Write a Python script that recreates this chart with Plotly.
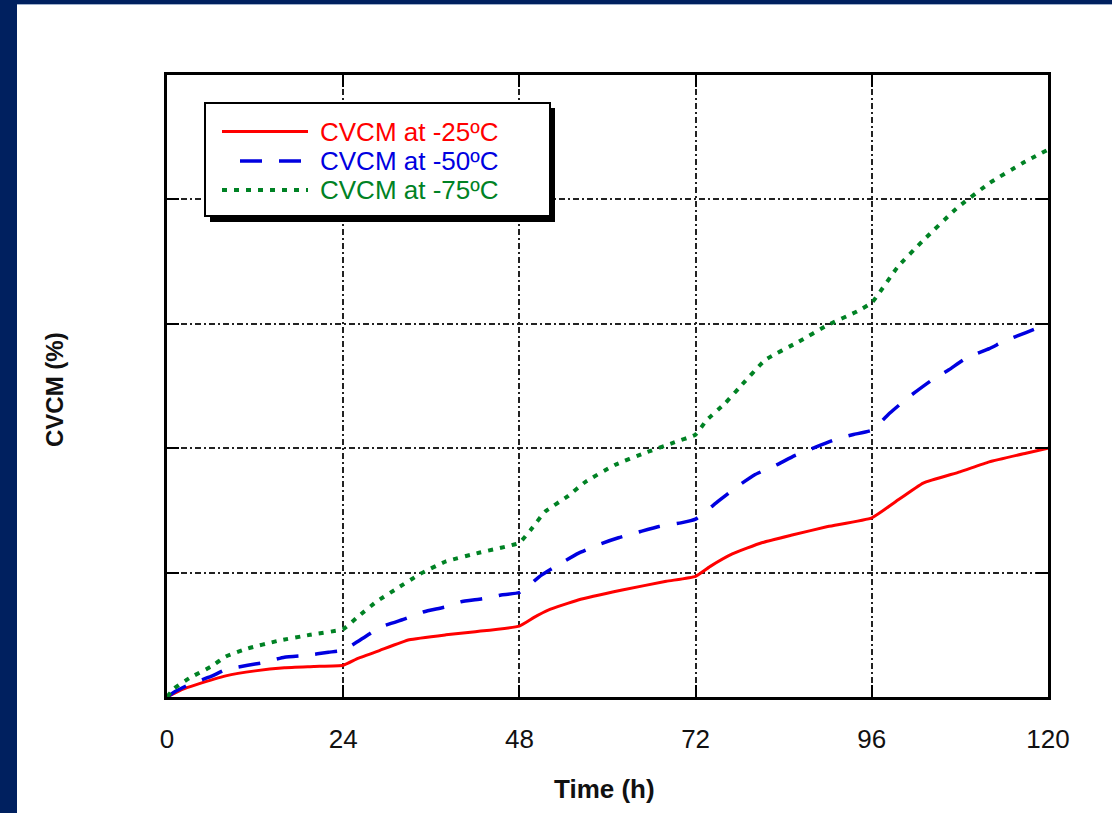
import plotly.graph_objects as go

# ---------------- data ----------------
x_ticks = [0, 24, 48, 72, 96, 120]
x_tick_labels = ["0", "24", "48", "72", "96", "120"]

series_names = ["CVCM at -25ºC", "CVCM at -50ºC", "CVCM at -75ºC"]
series_colors = ["#ff0000", "#0000e0", "#008224"]

t_25 = [0, 2, 4, 8, 12, 16, 20, 24, 26, 29, 33, 38, 42, 48, 50, 52, 56, 62, 68, 72,
        74, 77, 81, 85, 90, 96, 99, 103, 108, 112, 117, 120]
cvcm_25 = [0, 0.06, 0.10, 0.17, 0.21, 0.235, 0.245, 0.255, 0.31, 0.375, 0.46, 0.50, 0.525,
           0.57, 0.64, 0.70, 0.78, 0.86, 0.93, 0.97, 1.05, 1.15, 1.24, 1.30, 1.37, 1.44,
           1.56, 1.72, 1.81, 1.89, 1.96, 2.0]

t_50 = [0, 1, 3, 6, 8, 11, 13, 16, 19, 22, 24, 27, 29, 32.5, 35, 38, 40, 43, 45.5, 48,
        51, 53.5, 56, 59, 61.5, 64.5, 67, 70, 72, 75, 77.5, 80, 83, 85.5, 88, 91, 93.5,
        96, 98.5, 101, 104, 106.5, 109, 112, 114, 117, 120]
cvcm_50 = [0, 0.04, 0.10, 0.165, 0.22, 0.255, 0.275, 0.32, 0.335, 0.36, 0.375, 0.485, 0.56,
           0.63, 0.685, 0.725, 0.765, 0.79, 0.82, 0.84, 0.98, 1.07, 1.155, 1.23, 1.28, 1.33,
           1.37, 1.40, 1.43, 1.57, 1.685, 1.785, 1.865, 1.94, 2.0, 2.07, 2.11, 2.145, 2.285,
           2.41, 2.54, 2.63, 2.73, 2.80, 2.86, 2.93, 3.0]

t_75 = [0, 1, 3, 6, 8, 11, 15, 19.5, 24, 26, 28.5, 31, 34.5, 38, 42.5, 48, 49.5, 51.5, 54.5,
        57, 61, 65, 69, 72, 73.5, 76, 78, 81.5, 86, 90, 94, 96, 99.5, 103, 107.5, 112,
        116.5, 120]
cvcm_75 = [0, 0.07, 0.15, 0.245, 0.325, 0.39, 0.45, 0.50, 0.546, 0.645, 0.765, 0.86, 0.99,
           1.09, 1.16, 1.24, 1.34, 1.49, 1.61, 1.73, 1.865, 1.96, 2.045, 2.11, 2.225, 2.36,
           2.49, 2.71, 2.855, 2.99, 3.10, 3.17, 3.455, 3.67, 3.925, 4.13, 4.29, 4.4]

y_ticks = [0, 1, 2, 3, 4, 5]

# ---------------- layout constants (pixels) ----------------
W, H = 1112, 813
PL, PR, PT, PB = 167, 1048, 75, 697
FONT = "Liberation Sans, Arial, sans-serif"
NAVY = "#00205f"


def px_x(px):
    return (px - PL) / (PR - PL)


def px_y(py):
    return (PB - py) / (PB - PT)


fig = go.Figure()
dashes = ["solid", "22px,17px", "5px,7px"]
widths = [3, 3.5, 4]
for t, v, name, col, d, w in zip([t_25, t_50, t_75], [cvcm_25, cvcm_50, cvcm_75],
                                 series_names, series_colors, dashes, widths):
    fig.add_trace(go.Scatter(x=t, y=v, mode="lines", name=name, showlegend=False,
                             line=dict(color=col, width=w, dash=d, shape="spline",
                                       smoothing=0.4)))

shapes = []
# dark blue frame (left and top strips)
shapes.append(dict(type="rect", xref="paper", yref="paper", layer="below",
                   x0=px_x(-50), x1=px_x(17), y0=px_y(900), y1=px_y(-50),
                   fillcolor=NAVY, line=dict(width=0)))
shapes.append(dict(type="rect", xref="paper", yref="paper", layer="below",
                   x0=px_x(-50), x1=px_x(1200), y0=px_y(4), y1=px_y(-50),
                   fillcolor=NAVY, line=dict(width=0)))
shapes.append(dict(type="line", xref="paper", yref="paper", layer="below",
                   x0=px_x(17), x1=px_x(1200), y0=px_y(4.5), y1=px_y(4.5),
                   line=dict(color="#9fb0cc", width=1)))

# custom legend box with shadow
LX0, LX1, LY0, LY1 = 205, 550, 103, 216
shapes.append(dict(type="rect", xref="paper", yref="paper",
                   x0=px_x(LX0 + 5), x1=px_x(LX1 + 5), y0=px_y(LY1 + 6), y1=px_y(LY0 + 5),
                   fillcolor="black", line=dict(width=0)))
shapes.append(dict(type="rect", xref="paper", yref="paper",
                   x0=px_x(LX0), x1=px_x(LX1), y0=px_y(LY1), y1=px_y(LY0),
                   fillcolor="white", line=dict(color="black", width=2)))

rows = [131.5, 161, 190]
starts = [222, 240, 222]
annotations = []
for name, col, d, w, ry, sx in zip(series_names, series_colors, dashes, widths, rows, starts):
    shapes.append(dict(type="line", xref="paper", yref="paper",
                       x0=px_x(sx), x1=px_x(308), y0=px_y(ry), y1=px_y(ry),
                       line=dict(color=col, width=w, dash=d)))
    annotations.append(dict(xref="paper", yref="paper", x=px_x(318), y=px_y(ry),
                            xanchor="left", yanchor="middle", showarrow=False,
                            text=name, font=dict(family=FONT, size=26, color=col)))

annotations.append(dict(xref="paper", yref="paper", x=px_x(55), y=px_y(390),
                        xanchor="center", yanchor="middle", showarrow=False, textangle=-90,
                        text="<b>CVCM (%)</b>", font=dict(family=FONT, size=24, color="#111")))
annotations.append(dict(xref="paper", yref="paper", x=px_x(604), y=px_y(789),
                        xanchor="center", yanchor="middle", showarrow=False,
                        text="<b>Time (h)</b>", font=dict(family=FONT, size=26, color="#111")))

axis_common = dict(showline=True, linecolor="black", linewidth=3, mirror="ticks",
                   ticks="inside", ticklen=12, tickwidth=2, tickcolor="black",
                   showgrid=True, gridcolor="#222", gridwidth=1.5,
                   griddash="6px,3px,2px,3px", zeroline=False)

fig.update_layout(
    width=W, height=H,
    margin=dict(l=PL, r=W - PR, t=PT, b=H - PB, pad=0),
    paper_bgcolor="white", plot_bgcolor="white",
    shapes=shapes, annotations=annotations,
    xaxis=dict(range=[0, 120], tickvals=x_ticks, ticktext=x_tick_labels,
               tickfont=dict(family=FONT, size=26, color="#111"),
               ticklabelstandoff=17, **axis_common),
    yaxis=dict(range=[0, 5], tickvals=y_ticks, showticklabels=False, **axis_common),
    showlegend=False,
)

fig.write_html("out.html", config={"displayModeBar": False},
               post_script="document.body.style.margin='0';document.body.style.overflow='hidden';")
